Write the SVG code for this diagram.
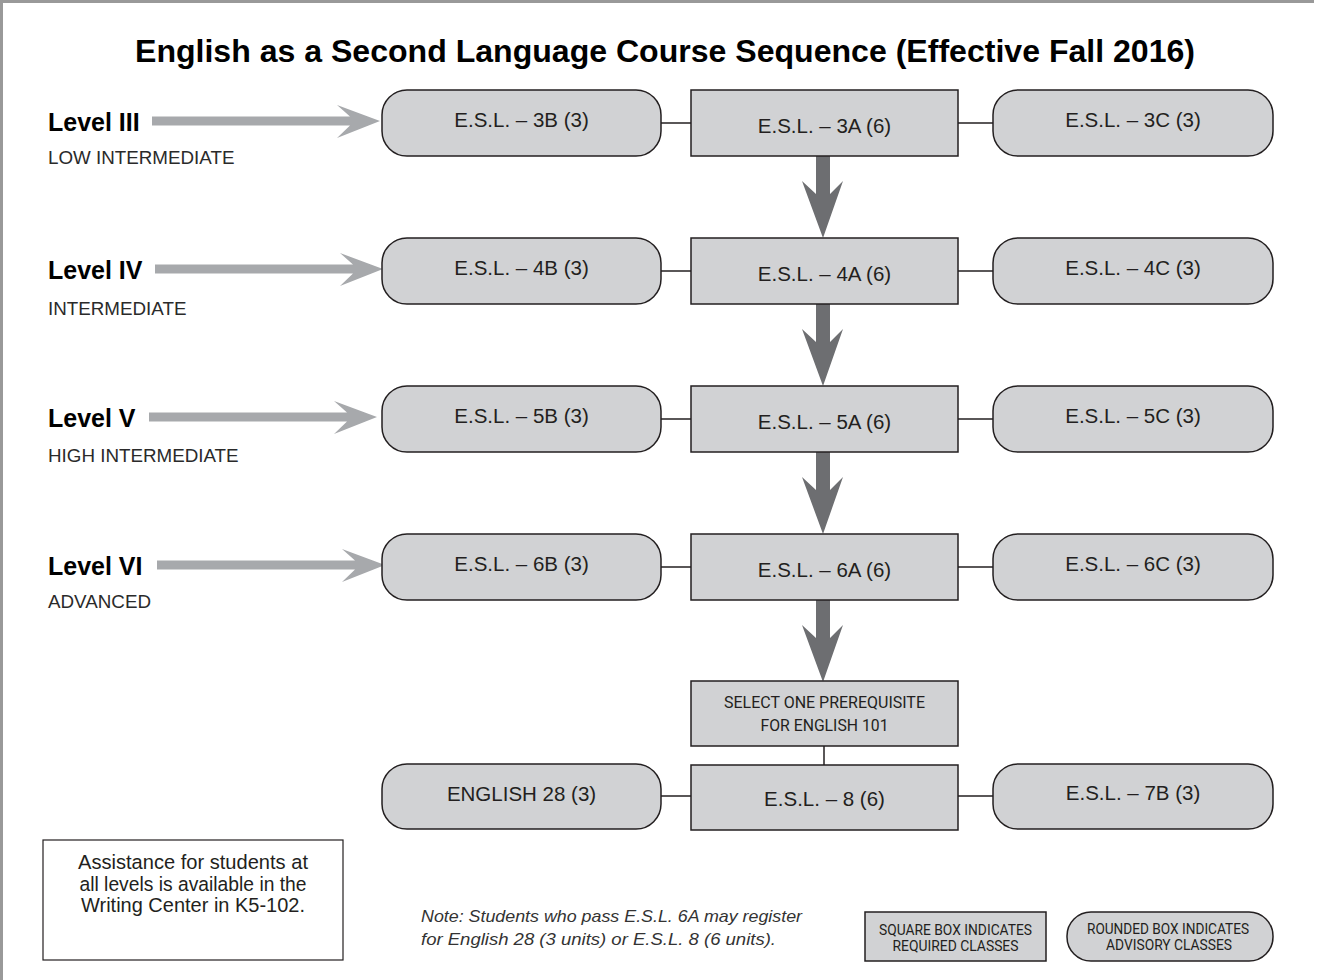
<svg xmlns="http://www.w3.org/2000/svg" width="1322" height="980" viewBox="0 0 1322 980">
<style>
.rbox{fill:#d1d2d4;stroke:#231f20;stroke-width:1.5}
.sbox{fill:#d1d2d4;stroke:#231f20;stroke-width:1.5}
.t{font-family:"Liberation Sans",Arial,sans-serif;font-size:20.5px;fill:#231f20;text-anchor:middle}
.lvl{font-family:"Liberation Sans",Arial,sans-serif;font-size:25px;font-weight:bold;fill:#000}
.sub{font-family:"Liberation Sans",Arial,sans-serif;font-size:18.8px;fill:#2a2a2a}
.cond{font-family:Roboto,"Liberation Sans",sans-serif;fill:#231f20;text-anchor:middle}
.line{stroke:#231f20;stroke-width:1.5;fill:none}
.garrow{fill:#a7a9ac}
.darrow{fill:#6d6e71}
.note{font-family:"Liberation Sans",Arial,sans-serif;font-size:16.5px;font-style:italic;fill:#333}
</style>
<defs>
<polygon id="ga" points="0,-4.5 198,-4.5 185,-16 228,0 185,17 198,4.5 0,4.5"/>
<polygon id="da" points="-7,0 7,0 7,38 20,25 0,82 -21,25 -7,38"/>
</defs>
<rect x="0" y="0" width="1322" height="980" fill="#fff"/>
<line x1="0" y1="1.5" x2="1314" y2="1.5" stroke="#999" stroke-width="3"/>
<line x1="1.5" y1="0" x2="1.5" y2="980" stroke="#999" stroke-width="3"/>

<text id="title" x="665" y="62" font-family="'Liberation Sans',Arial,sans-serif" font-size="31" font-weight="bold" text-anchor="middle" textLength="1060" lengthAdjust="spacingAndGlyphs">English as a Second Language Course Sequence (Effective Fall 2016)</text>

<g id="connectors">
<line class="line" x1="661" y1="123" x2="691" y2="123"/>
<line class="line" x1="958" y1="123" x2="993" y2="123"/>
<line class="line" x1="661" y1="271" x2="691" y2="271"/>
<line class="line" x1="958" y1="271" x2="993" y2="271"/>
<line class="line" x1="661" y1="419" x2="691" y2="419"/>
<line class="line" x1="958" y1="419" x2="993" y2="419"/>
<line class="line" x1="661" y1="567" x2="691" y2="567"/>
<line class="line" x1="958" y1="567" x2="993" y2="567"/>
<line class="line" x1="661" y1="796" x2="691" y2="796"/>
<line class="line" x1="958" y1="796" x2="993" y2="796"/>
<line class="line" x1="824" y1="746" x2="824" y2="765"/>
<use href="#da" class="darrow" x="823" y="156"/>
<use href="#da" class="darrow" x="823" y="304"/>
<use href="#da" class="darrow" x="823" y="452"/>
<use href="#da" class="darrow" x="823" y="600"/>
<use href="#ga" class="garrow" x="152" y="121"/>
<use href="#ga" class="garrow" x="155" y="269"/>
<use href="#ga" class="garrow" x="149" y="417"/>
<use href="#ga" class="garrow" x="157" y="565"/>
</g>

<g id="level3"><text class="lvl" x="48" y="131">Level III</text><text class="sub" x="48" y="164">LOW INTERMEDIATE</text></g>
<g id="level4"><text class="lvl" x="48" y="279">Level IV</text><text class="sub" x="48" y="315">INTERMEDIATE</text></g>
<g id="level5"><text class="lvl" x="48" y="427">Level V</text><text class="sub" x="48" y="462">HIGH INTERMEDIATE</text></g>
<g id="level6"><text class="lvl" x="48" y="575">Level VI</text><text class="sub" x="48" y="608">ADVANCED</text></g>

<g id="esl3b"><rect class="rbox" x="382" y="90" width="279" height="66" rx="25"/><text class="t" x="521.5" y="127">E.S.L. – 3B (3)</text></g>
<g id="esl3a"><rect class="sbox" x="691" y="90" width="267" height="66"/><text class="t" x="824.5" y="133">E.S.L. – 3A (6)</text></g>
<g id="esl3c"><rect class="rbox" x="993" y="90" width="280" height="66" rx="25"/><text class="t" x="1133" y="127">E.S.L. – 3C (3)</text></g>

<g id="esl4b"><rect class="rbox" x="382" y="238" width="279" height="66" rx="25"/><text class="t" x="521.5" y="275">E.S.L. – 4B (3)</text></g>
<g id="esl4a"><rect class="sbox" x="691" y="238" width="267" height="66"/><text class="t" x="824.5" y="281">E.S.L. – 4A (6)</text></g>
<g id="esl4c"><rect class="rbox" x="993" y="238" width="280" height="66" rx="25"/><text class="t" x="1133" y="275">E.S.L. – 4C (3)</text></g>

<g id="esl5b"><rect class="rbox" x="382" y="386" width="279" height="66" rx="25"/><text class="t" x="521.5" y="423">E.S.L. – 5B (3)</text></g>
<g id="esl5a"><rect class="sbox" x="691" y="386" width="267" height="66"/><text class="t" x="824.5" y="429">E.S.L. – 5A (6)</text></g>
<g id="esl5c"><rect class="rbox" x="993" y="386" width="280" height="66" rx="25"/><text class="t" x="1133" y="423">E.S.L. – 5C (3)</text></g>

<g id="esl6b"><rect class="rbox" x="382" y="534" width="279" height="66" rx="25"/><text class="t" x="521.5" y="571">E.S.L. – 6B (3)</text></g>
<g id="esl6a"><rect class="sbox" x="691" y="534" width="267" height="66"/><text class="t" x="824.5" y="577">E.S.L. – 6A (6)</text></g>
<g id="esl6c"><rect class="rbox" x="993" y="534" width="280" height="66" rx="25"/><text class="t" x="1133" y="571">E.S.L. – 6C (3)</text></g>

<g id="select"><rect class="sbox" x="691" y="681" width="267" height="65"/>
<text class="cond" x="824.5" y="708" font-size="17" textLength="201" lengthAdjust="spacingAndGlyphs">SELECT ONE PREREQUISITE</text>
<text class="cond" x="824.5" y="731" font-size="17" textLength="128" lengthAdjust="spacingAndGlyphs">FOR ENGLISH 101</text></g>

<g id="eng28"><rect class="rbox" x="382" y="764" width="279" height="65" rx="25"/><text class="t" x="521.5" y="801">ENGLISH 28 (3)</text></g>
<g id="esl8"><rect class="sbox" x="691" y="765" width="267" height="65"/><text class="t" x="824.5" y="806">E.S.L. – 8 (6)</text></g>
<g id="esl7b"><rect class="rbox" x="993" y="764" width="280" height="65" rx="25"/><text class="t" x="1133" y="800">E.S.L. – 7B (3)</text></g>

<g id="assistance"><rect x="43" y="840" width="300" height="120" fill="#fff" stroke="#231f20" stroke-width="1.2"/>
<text class="t" x="193" y="869" font-size="18.5" textLength="230" lengthAdjust="spacingAndGlyphs" fill="#333">Assistance for students at</text>
<text class="t" x="193" y="891" font-size="18.5" textLength="227" lengthAdjust="spacingAndGlyphs" fill="#333">all levels is available in the</text>
<text class="t" x="193" y="912" font-size="18.5" textLength="224" lengthAdjust="spacingAndGlyphs" fill="#333">Writing Center in K5-102.</text></g>

<g id="note">
<text class="note" x="421" y="922" textLength="381" lengthAdjust="spacingAndGlyphs">Note: Students who pass E.S.L. 6A may register</text>
<text class="note" x="421" y="945" textLength="355" lengthAdjust="spacingAndGlyphs">for English 28 (3 units) or E.S.L. 8 (6 units).</text>
</g>

<g id="legend-square"><rect class="sbox" x="865" y="912" width="181" height="49"/>
<text class="cond" x="955.5" y="935" font-size="15" textLength="153" lengthAdjust="spacingAndGlyphs">SQUARE BOX INDICATES</text>
<text class="cond" x="955.5" y="951" font-size="15" textLength="126" lengthAdjust="spacingAndGlyphs">REQUIRED CLASSES</text></g>
<g id="legend-rounded"><rect class="rbox" x="1067" y="912" width="206" height="49" rx="24"/>
<text class="cond" x="1168" y="934" font-size="15" textLength="162" lengthAdjust="spacingAndGlyphs">ROUNDED BOX INDICATES</text>
<text class="cond" x="1169" y="950" font-size="15" textLength="126" lengthAdjust="spacingAndGlyphs">ADVISORY CLASSES</text></g>
</svg>
